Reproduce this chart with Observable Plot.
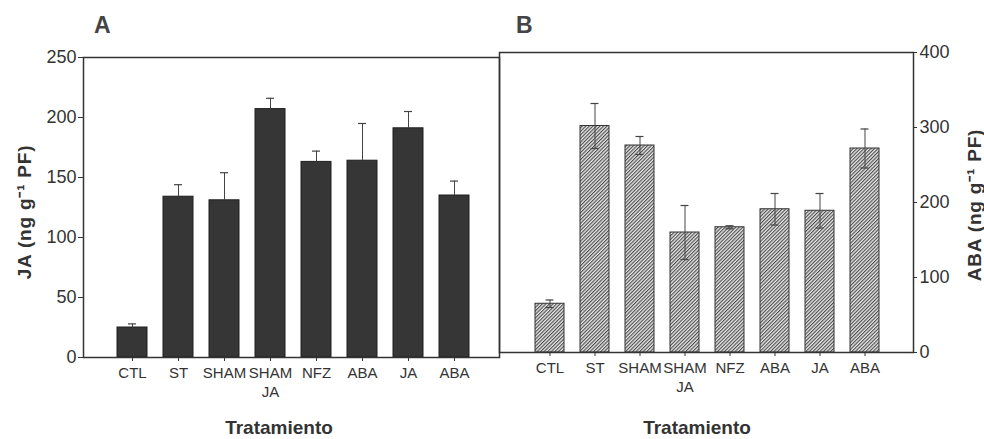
<!DOCTYPE html>
<html>
<head>
<meta charset="utf-8">
<script src="https://cdn.jsdelivr.net/npm/d3@7"></script>
<script src="https://cdn.jsdelivr.net/npm/@observablehq/plot@0.6"></script>
<style>
  html, body { margin: 0; padding: 0; background: #fff; }
  #root { position: relative; width: 984px; height: 439px; overflow: hidden; font-family: "Liberation Sans", Arial, Helvetica, sans-serif; color: #333; }
  .abs { position: absolute; white-space: nowrap; }
  .panel { position: absolute; top: 0; }
  .letter { font-weight: bold; font-size: 23px; color: #444; }
  .xlab { font-weight: bold; font-size: 19px; line-height: 19px; color: #333; transform: translateX(-50%); }
  .ylab { font-weight: bold; font-size: 19px; letter-spacing: 0.8px; color: #333; transform: translate(-50%, -50%) rotate(-90deg); }
  svg { overflow: visible; }
</style>
</head>
<body>
<div id="root">
  <div id="panelA" class="panel" style="left:0px"></div>
  <div id="panelB" class="panel" style="left:499px"></div>
  <div class="abs letter" style="left:94px; top:12px">A</div>
  <div class="abs letter" style="left:516px; top:12px">B</div>
  <div class="abs xlab" style="left:279px; top:418px">Tratamiento</div>
  <div class="abs xlab" style="left:697px; top:418px">Tratamiento</div>
  <div class="abs ylab" style="left:24px; top:212px">JA (ng g⁻¹ PF)</div>
  <div class="abs ylab" style="left:974px; top:205px">ABA (ng g⁻¹ PF)</div>
</div>
<script>
// Treatments (unique keys) and their tick labels
const treatments = ["CTL", "ST", "SHAM", "SHAM JA", "NFZ", "ABA1", "JA", "ABA2"];
const tickLabels = ["CTL", "ST", "SHAM", "SHAM\nJA", "NFZ", "ABA", "JA", "ABA"];

// Panel A: JA content (ng g-1 PF) and error
const jaValues = [25, 134, 131, 207, 163, 164, 191, 135];
const jaErrors = [3, 10, 23, 9, 9, 31, 14, 12];

// Panel B: ABA content (ng g-1 PF) and error
const abaValues = [65, 302, 276, 160, 167, 191, 189, 272];
const abaErrors = [5, 30, 12, 36, 2, 21, 23, 26];

const jaTicks = [0, 50, 100, 150, 200, 250];
const abaTicks = [0, 100, 200, 300, 400];

const labelOf = Object.fromEntries(treatments.map((t, i) => [t, tickLabels[i]]));
const rowsA = treatments.map((k, i) => ({k, v: jaValues[i], e: jaErrors[i]}));
const rowsB = treatments.map((k, i) => ({k, v: abaValues[i], e: abaErrors[i]}));

const ink = "#333";

const chartA = Plot.plot({
  width: 499, height: 439,
  marginLeft: 83, marginRight: 0, marginTop: 57, marginBottom: 82,
  style: {fontFamily: "Liberation Sans, Arial, sans-serif", fontSize: "15px", color: ink, background: "transparent"},
  x: {domain: treatments, paddingInner: 0.35, paddingOuter: 0.175, insetLeft: 26, insetRight: 22, label: null},
  y: {domain: [0, 250], label: null},
  marks: [
    Plot.barY(rowsA, {x: "k", y: "v", fill: "#363636", stroke: "#1e1e1e", strokeWidth: 1}),
    Plot.ruleX(rowsA, {x: "k", y1: "v", y2: d => d.v + d.e, stroke: "#444", strokeWidth: 1}),
    Plot.tickY(rowsA, {x: "k", y: d => d.v + d.e, insetLeft: 11, insetRight: 11, stroke: "#444", strokeWidth: 1.2}),
    Plot.frame({stroke: ink, strokeWidth: 1.5}),
    Plot.axisY({ticks: jaTicks, tickSize: 5, tickPadding: 2, fontSize: 18, label: null, stroke: ink}),
    Plot.axisX({tickSize: 4, tickPadding: 3, fontSize: 15, tickFormat: k => labelOf[k], lineHeight: 1.25, label: null, stroke: ink})
  ]
});

const chartB = Plot.plot({
  width: 485, height: 439,
  marginLeft: 0, marginRight: 71, marginTop: 52, marginBottom: 87,
  style: {fontFamily: "Liberation Sans, Arial, sans-serif", fontSize: "15px", color: ink, background: "transparent"},
  x: {domain: treatments, paddingInner: 0.35, paddingOuter: 0.175, insetLeft: 24, insetRight: 22.5, label: null},
  y: {domain: [0, 400], label: null},
  marks: [
    Plot.barY(rowsB, {x: "k", y: "v", fill: "url(#hatchB)", stroke: "#333", strokeWidth: 1}),
    Plot.ruleX(rowsB, {x: "k", y1: d => d.v - d.e, y2: d => d.v + d.e, stroke: "#444", strokeWidth: 1}),
    Plot.tickY(rowsB, {x: "k", y: d => d.v + d.e, insetLeft: 10.5, insetRight: 10.5, stroke: "#444", strokeWidth: 1.2}),
    Plot.tickY(rowsB, {x: "k", y: d => d.v - d.e, insetLeft: 10.5, insetRight: 10.5, stroke: "#444", strokeWidth: 1.2}),
    Plot.frame({stroke: ink, strokeWidth: 1.5}),
    Plot.axisY({anchor: "right", ticks: abaTicks, tickSize: 3, tickPadding: 3, fontSize: 18, label: null, stroke: ink}),
    Plot.axisX({tickSize: 4, tickPadding: 3, fontSize: 15, tickFormat: k => labelOf[k], lineHeight: 1.25, label: null, stroke: ink})
  ]
});

d3.select(chartB).insert("defs", ":first-child").html(
  '<pattern id="hatchB" patternUnits="userSpaceOnUse" width="2.5" height="2.5" patternTransform="rotate(45)">' +
  '<rect width="2.5" height="2.5" fill="#e8e8e8"></rect>' +
  '<line x1="0.6" y1="0" x2="0.6" y2="2.5" stroke="#383838" stroke-width="1"></line>' +
  '</pattern>'
);

document.getElementById("panelA").appendChild(chartA);
document.getElementById("panelB").appendChild(chartB);
</script>
</body>
</html>
